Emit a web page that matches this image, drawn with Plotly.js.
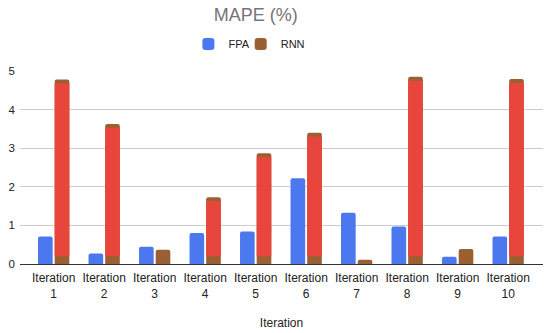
<!DOCTYPE html>
<html><head><meta charset="utf-8">
<script src="https://cdn.plot.ly/plotly-3.0.1.min.js"></script>
<style>html,body{margin:0;padding:0;background:#fff}#c{width:550px;height:333px}</style>
</head><body><div id="c"></div>
<script>
const categories = ["Iteration<br>1","Iteration<br>2","Iteration<br>3","Iteration<br>4","Iteration<br>5","Iteration<br>6","Iteration<br>7","Iteration<br>8","Iteration<br>9","Iteration<br>10"];
const fpa = [0.71, 0.27, 0.45, 0.80, 0.84, 2.22, 1.33, 0.97, 0.19, 0.71];
const rnn = [4.78, 3.63, 0.37, 1.73, 2.87, 3.40, 0.11, 4.85, 0.39, 4.79];

const blue = "#4c78ef", brown = "#9a6032", red = "#e8453c";
const W = 0.29;
// red body inside the taller RNN bars (brown caps at top and bottom)
const bodyBase = rnn.map(v => v > 0.6 ? 0.2 : null);
const bodyLen = rnn.map(v => v > 0.6 ? v - 0.3 : null);

const traces = [
  {type:"bar", name:"FPA", x:categories, y:fpa, marker:{color:blue, cornerradius:2}, width:W, offset:-0.31, hoverinfo:"y", legend:"legend"},
  {type:"bar", name:"RNN", x:categories, y:rnn, marker:{color:brown, cornerradius:2}, width:W, offset:0.02, hoverinfo:"y", legend:"legend2"},
  {type:"bar", name:"RNN body", x:categories, y:bodyLen, base:bodyBase, marker:{color:red}, width:W, offset:0.02, showlegend:false, hoverinfo:"skip"}
];

const legBase = {orientation:"h", xanchor:"left", y:1.14, yanchor:"middle", font:{size:11, color:"#222"}, bgcolor:"rgba(0,0,0,0)"};
const layout = {
  width:550, height:333,
  margin:{l:20, r:7, t:71, b:69},
  paper_bgcolor:"#fff", plot_bgcolor:"#fff",
  barmode:"overlay",
  font:{family:"Liberation Sans, Arial, sans-serif", color:"#222", size:11},
  title:{text:"MAPE (%)", x:0.465, xanchor:"center", y:0.975, yanchor:"top", font:{size:18, color:"#757575"}},
  showlegend:true,
  legend:Object.assign({}, legBase, {x:0.322}),
  legend2:Object.assign({}, legBase, {x:0.422}),
  xaxis:{type:"category", range:[-0.667, 9.69], showgrid:false, ticks:"", tickfont:{size:12, color:"#222"}, ticklabelstandoff:5,
         title:{text:"Iteration", font:{size:12, color:"#222"}, standoff:19}, showline:false, zeroline:false},
  yaxis:{range:[0, 5], dtick:1, showgrid:true, gridcolor:"#cccccc", gridwidth:1, zeroline:true, zerolinecolor:"#333", zerolinewidth:1,
         ticks:"", tickfont:{size:11.5, color:"#222"}, ticklabelstandoff:4, showline:false}
};
Plotly.newPlot("c", traces, layout, {staticPlot:true, displayModeBar:false});
</script></body></html>
